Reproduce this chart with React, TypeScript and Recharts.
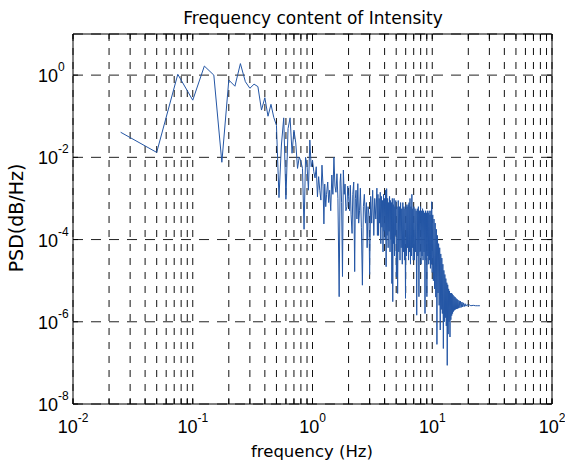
import React from 'react';
import { LineChart, Line, XAxis, YAxis, CartesianGrid } from 'recharts';

// Frequency (Hz) and PSD; PSD stored as log10 exponents
const lowFreq = [0.025, 0.05, 0.075, 0.1, 0.125, 0.15, 0.175, 0.2, 0.225, 0.25, 0.275, 0.3, 0.325, 0.35, 0.375, 0.4, 0.425, 0.45, 0.475, 0.5, 0.525, 0.55, 0.575, 0.6, 0.625, 0.65, 0.675, 0.7, 0.725, 0.75, 0.775, 0.8, 0.825, 0.85, 0.875, 0.9, 0.925, 0.95, 0.975, 1.0];
const lowPsdExp = [-1.39, -1.88, 0.02, -0.61, 0.22, 0.0, -2.12, -0.12, -0.27, 0.28, -0.16, -0.32, -0.22, -0.28, -0.85, -0.55, -1.0, -0.71, -1.03, -1.22, -2.98, -1.7, -1.04, -3.02, -1.3, -1.04, -1.9, -1.34, -1.65, -2.27, -1.99, -2.1, -2.27, -3.75, -2.0, -2.2, -2.8, -1.58, -2.23, -2.07];

const midFreq = [1.025, 1.05, 1.075, 1.1, 1.125, 1.15, 1.175, 1.2, 1.225, 1.245, 1.265, 1.29, 1.31, 1.34, 1.365, 1.39, 1.42, 1.45, 1.48, 1.51, 1.54, 1.57, 1.6, 1.63, 1.67, 1.7, 1.72, 1.75, 1.78, 1.81, 1.84, 1.87, 1.9, 1.94, 1.97, 2.0, 2.04, 2.07, 2.1, 2.14, 2.17, 2.21, 2.25, 2.28, 2.31, 2.35, 2.39, 2.43, 2.47, 2.51, 2.56, 2.61, 2.66, 2.71, 2.77, 2.82, 2.86, 2.91, 2.96, 3.0, 3.06, 3.12, 3.18, 3.25, 3.31, 3.38, 3.45, 3.485];
const midPsdExp = [-2.35, -2.5, -2.23, -2.96, -2.47, -2.8, -3.04, -2.19, -2.7, -3.62, -2.65, -3.2, -2.9, -2.6, -3.1, -2.8, -3.3, -2.43, -2.9, -2.0, -2.7, -2.85, -2.4, -3.0, -5.39, -2.6, -2.4, -3.1, -4.9, -2.31, -2.9, -2.65, -3.3, -3.2, -2.7, -2.96, -3.3, -2.68, -3.4, -3.85, -2.9, -2.6, -4.78, -3.0, -2.8, -3.5, -2.64, -3.6, -3.3, -2.75, -3.7, -5.11, -3.2, -2.9, -3.6, -3.1, -4.2, -3.2, -3.4, -4.85, -2.95, -3.6, -2.8, -3.9, -3.0, -3.5, -2.75, -3.9];

const bandFreqA = [3.52, 3.56, 3.6, 3.64, 3.68, 3.72, 3.76, 3.8, 3.84, 3.88, 3.92, 3.96, 4.0, 4.04, 4.08, 4.12, 4.16, 4.2, 4.24, 4.28, 4.32, 4.36, 4.4, 4.44, 4.48, 4.52, 4.56, 4.6, 4.64, 4.68, 4.72, 4.76, 4.8, 4.84, 4.88, 4.92, 4.96];
const bandPsdExpA = [-2.9, -3.9, -3.0, -3.6, -2.85, -4.1, -2.95, -3.7, -3.05, -4.3, -2.9, -3.8, -3.0, -4.0, -2.8, -4.66, -2.76, -3.9, -3.0, -4.2, -3.1, -3.8, -2.95, -4.3, -3.05, -4.0, -3.1, -5.07, -3.0, -5.51, -3.15, -4.1, -3.0, -4.4, -3.2, -3.9, -3.05];

const bandFreqB = [5.02, 5.08, 5.14, 5.2, 5.26, 5.32, 5.38, 5.44, 5.5, 5.56, 5.62, 5.68, 5.74, 5.8, 5.86, 5.92, 5.98, 6.04, 6.1, 6.16, 6.22, 6.28, 6.34, 6.4, 6.46, 6.52, 6.58, 6.64, 6.7, 6.76, 6.82, 6.88, 6.94];
const bandPsdExpB = [-4.91, -3.2, -5.31, -3.05, -4.3, -3.2, -4.5, -3.1, -4.2, -3.25, -4.6, -3.1, -4.3, -3.2, -4.5, -3.25, -5.43, -3.15, -4.4, -3.2, -4.2, -3.15, -4.5, -3.1, -4.3, -3.0, -4.6, -3.2, -4.4, -2.9, -4.2, -3.25, -4.5];

const bandFreqC = [7.02, 7.1, 7.18, 7.26, 7.34, 7.42, 7.5, 7.58, 7.66, 7.74, 7.82, 7.9, 7.98, 8.06, 8.14, 8.22, 8.3, 8.38, 8.46, 8.54, 8.62, 8.7, 8.78, 8.86, 8.94, 9.02, 9.1, 9.18, 9.26, 9.34, 9.42, 9.5, 9.58, 9.66, 9.74, 9.82, 9.9, 9.98];
const bandPsdExpC = [-3.2, -4.5, -3.25, -4.3, -3.3, -5.84, -3.25, -4.4, -3.2, -5.39, -3.3, -4.3, -3.2, -4.6, -3.3, -4.4, -3.25, -4.5, -3.3, -4.3, -3.35, -5.8, -3.3, -4.5, -3.35, -5.39, -3.3, -4.4, -3.35, -4.6, -3.3, -4.5, -3.4, -4.7, -3.3, -4.6, -3.08, -4.8];

const bandFreqD = [10.1, 10.22, 10.34, 10.46, 10.58, 10.7, 10.82, 10.94, 11.06, 11.18, 11.3, 11.42, 11.54, 11.66, 11.78, 11.9, 12.02, 12.14, 12.26, 12.38, 12.5, 12.62, 12.74, 12.86, 12.98, 13.1, 13.22, 13.34, 13.46, 13.58, 13.7, 13.82, 13.94, 14.06, 14.18, 14.3, 14.42, 14.54, 14.66, 14.78, 14.9];
const bandPsdExpD = [-3.4, -5.0, -3.5, -5.2, -3.6, -5.4, -3.75, -6.55, -3.9, -5.3, -4.1, -5.6, -4.2, -6.2, -4.35, -5.7, -4.45, -5.8, -4.6, -6.65, -4.75, -6.0, -4.85, -5.9, -4.95, -6.1, -5.05, -7.06, -5.1, -6.3, -5.2, -6.0, -5.25, -6.37, -5.3, -5.95, -5.3, -5.85, -5.32, -5.8, -5.35];

const tailFreq = [15.05, 15.2, 15.35, 15.5, 15.65, 15.8, 15.95, 16.1, 16.25, 16.4, 16.6, 16.8, 17.0, 17.2, 17.45, 17.7, 17.95, 18.2, 18.5, 18.8, 19.1, 19.5, 20.0, 20.5, 21.0, 22.0, 23.0, 24.0, 25.0];
const tailPsdExp = [-5.75, -5.38, -5.72, -5.4, -5.7, -5.43, -5.69, -5.45, -5.68, -5.47, -5.67, -5.49, -5.66, -5.5, -5.65, -5.52, -5.64, -5.54, -5.63, -5.56, -5.62, -5.58, -5.61, -5.59, -5.61, -5.6, -5.61, -5.61, -5.61];

const xTicks = [0.01, 0.02, 0.03, 0.04, 0.05, 0.06, 0.07, 0.08, 0.09, 0.1, 0.2, 0.3, 0.4, 0.5, 0.6, 0.7, 0.8, 0.9, 1, 2, 3, 4, 5, 6, 7, 8, 9, 10, 20, 30, 40, 50, 60, 70, 80, 90, 100];
const xDecades = [0.01, 0.1, 1, 10, 100];
const xDecadeExps = ['-2', '-1', '0', '1', '2'];
const yTicks = [1e-8, 1e-6, 1e-4, 1e-2, 1];
const yTickExps = ['-8', '-6', '-4', '-2', '0'];

const allFreq = [...lowFreq, ...midFreq, ...bandFreqA, ...bandFreqB, ...bandFreqC, ...bandFreqD, ...tailFreq];
const allExp = [...lowPsdExp, ...midPsdExp, ...bandPsdExpA, ...bandPsdExpB, ...bandPsdExpC, ...bandPsdExpD, ...tailPsdExp];
const data = allFreq.map((f, i) => ({ freq: f, psd: Math.pow(10, allExp[i]) }));

const near = (a: number, b: number) => Math.abs(a - b) / Math.abs(b) < 1e-9;

const NUM_FONT = 'Liberation Sans, Arial, sans-serif';
const TXT_FONT = 'DejaVu Sans, sans-serif';

const BottomTick = (props: any) => {
  const { x, y, payload } = props;
  const idx = xDecades.findIndex((d) => near(payload.value, d));
  return (
    <g>
      <line x1={x} x2={x} y1={y} y2={y - 5} stroke="#000" strokeWidth={1} />
      {idx >= 0 && (
        <text x={x} y={y + 29} textAnchor="middle" fontFamily={NUM_FONT} fontSize={18} fill="#000">
          10<tspan dy={-11} fontSize={12}>{xDecadeExps[idx]}</tspan>
        </text>
      )}
    </g>
  );
};

const TopTick = (props: any) => {
  const { x, y } = props;
  return <line x1={x} x2={x} y1={y} y2={y + 5} stroke="#000" strokeWidth={1} />;
};

const LeftTick = (props: any) => {
  const { x, y, payload } = props;
  const idx = yTicks.findIndex((d) => near(payload.value, d));
  return (
    <g>
      <line x1={x} x2={x + 5} y1={y} y2={y} stroke="#000" strokeWidth={1} />
      {idx >= 0 && (
        <text x={x - 35} y={y + 7} textAnchor="start" fontFamily={NUM_FONT} fontSize={18} fill="#000">
          10<tspan dy={-11} fontSize={12}>{yTickExps[idx]}</tspan>
        </text>
      )}
    </g>
  );
};

const RightTick = (props: any) => {
  const { x, y } = props;
  return <line x1={x} x2={x - 5} y1={y} y2={y} stroke="#000" strokeWidth={1} />;
};

export default function App() {
  return (
    <div style={{ position: 'absolute', left: 0, top: 0, width: 565, height: 464, background: '#fff' }}>
      <LineChart width={565} height={464} data={data} margin={{ top: 24, right: 8, bottom: 30, left: 33 }}>
        <CartesianGrid horizontal={false} stroke="#111" strokeDasharray="7 7" />
        <CartesianGrid vertical={false} stroke="#222" strokeDasharray="10 8" />
        <XAxis
          dataKey="freq"
          type="number"
          scale="log"
          domain={[0.01, 100]}
          allowDataOverflow
          ticks={xTicks}
          interval={0}
          height={30}
          tickSize={0}
          tickMargin={0}
          tickLine={false}
          axisLine={{ stroke: '#000' }}
          tick={<BottomTick />}
        />
        <XAxis
          xAxisId="top"
          orientation="top"
          dataKey="freq"
          type="number"
          scale="log"
          domain={[0.01, 100]}
          allowDataOverflow
          ticks={xTicks}
          interval={0}
          height={10}
          tickSize={0}
          tickMargin={0}
          tickLine={false}
          axisLine={{ stroke: '#000' }}
          tick={<TopTick />}
        />
        <YAxis
          type="number"
          scale="log"
          domain={[1e-8, 10]}
          allowDataOverflow
          ticks={yTicks}
          interval={0}
          width={40}
          tickSize={0}
          tickMargin={0}
          tickLine={false}
          axisLine={{ stroke: '#000' }}
          tick={<LeftTick />}
        />
        <YAxis
          yAxisId="right"
          orientation="right"
          type="number"
          scale="log"
          domain={[1e-8, 10]}
          allowDataOverflow
          ticks={yTicks}
          interval={0}
          width={5}
          tickSize={0}
          tickMargin={0}
          tickLine={false}
          axisLine={{ stroke: '#000' }}
          tick={<RightTick />}
        />
        <Line
          dataKey="psd"
          type="linear"
          stroke="#2456a5"
          strokeWidth={1}
          dot={false}
          activeDot={false}
          isAnimationActive={false}
        />
      </LineChart>
      <svg width={565} height={464} style={{ position: 'absolute', left: 0, top: 0, pointerEvents: 'none' }}>
        <text x={313} y={24} textAnchor="middle" fontFamily={TXT_FONT} fontSize={17} fill="#000">
          Frequency content of Intensity
        </text>
        <text x={312} y={457} textAnchor="middle" fontFamily={TXT_FONT} fontSize={16.5} fill="#000">
          frequency (Hz)
        </text>
        <text
          x={23}
          y={218}
          textAnchor="middle"
          fontFamily={TXT_FONT}
          fontSize={19}
          fill="#000"
          transform="rotate(-90 23 218)"
        >
          PSD(dB/Hz)
        </text>
      </svg>
    </div>
  );
}
